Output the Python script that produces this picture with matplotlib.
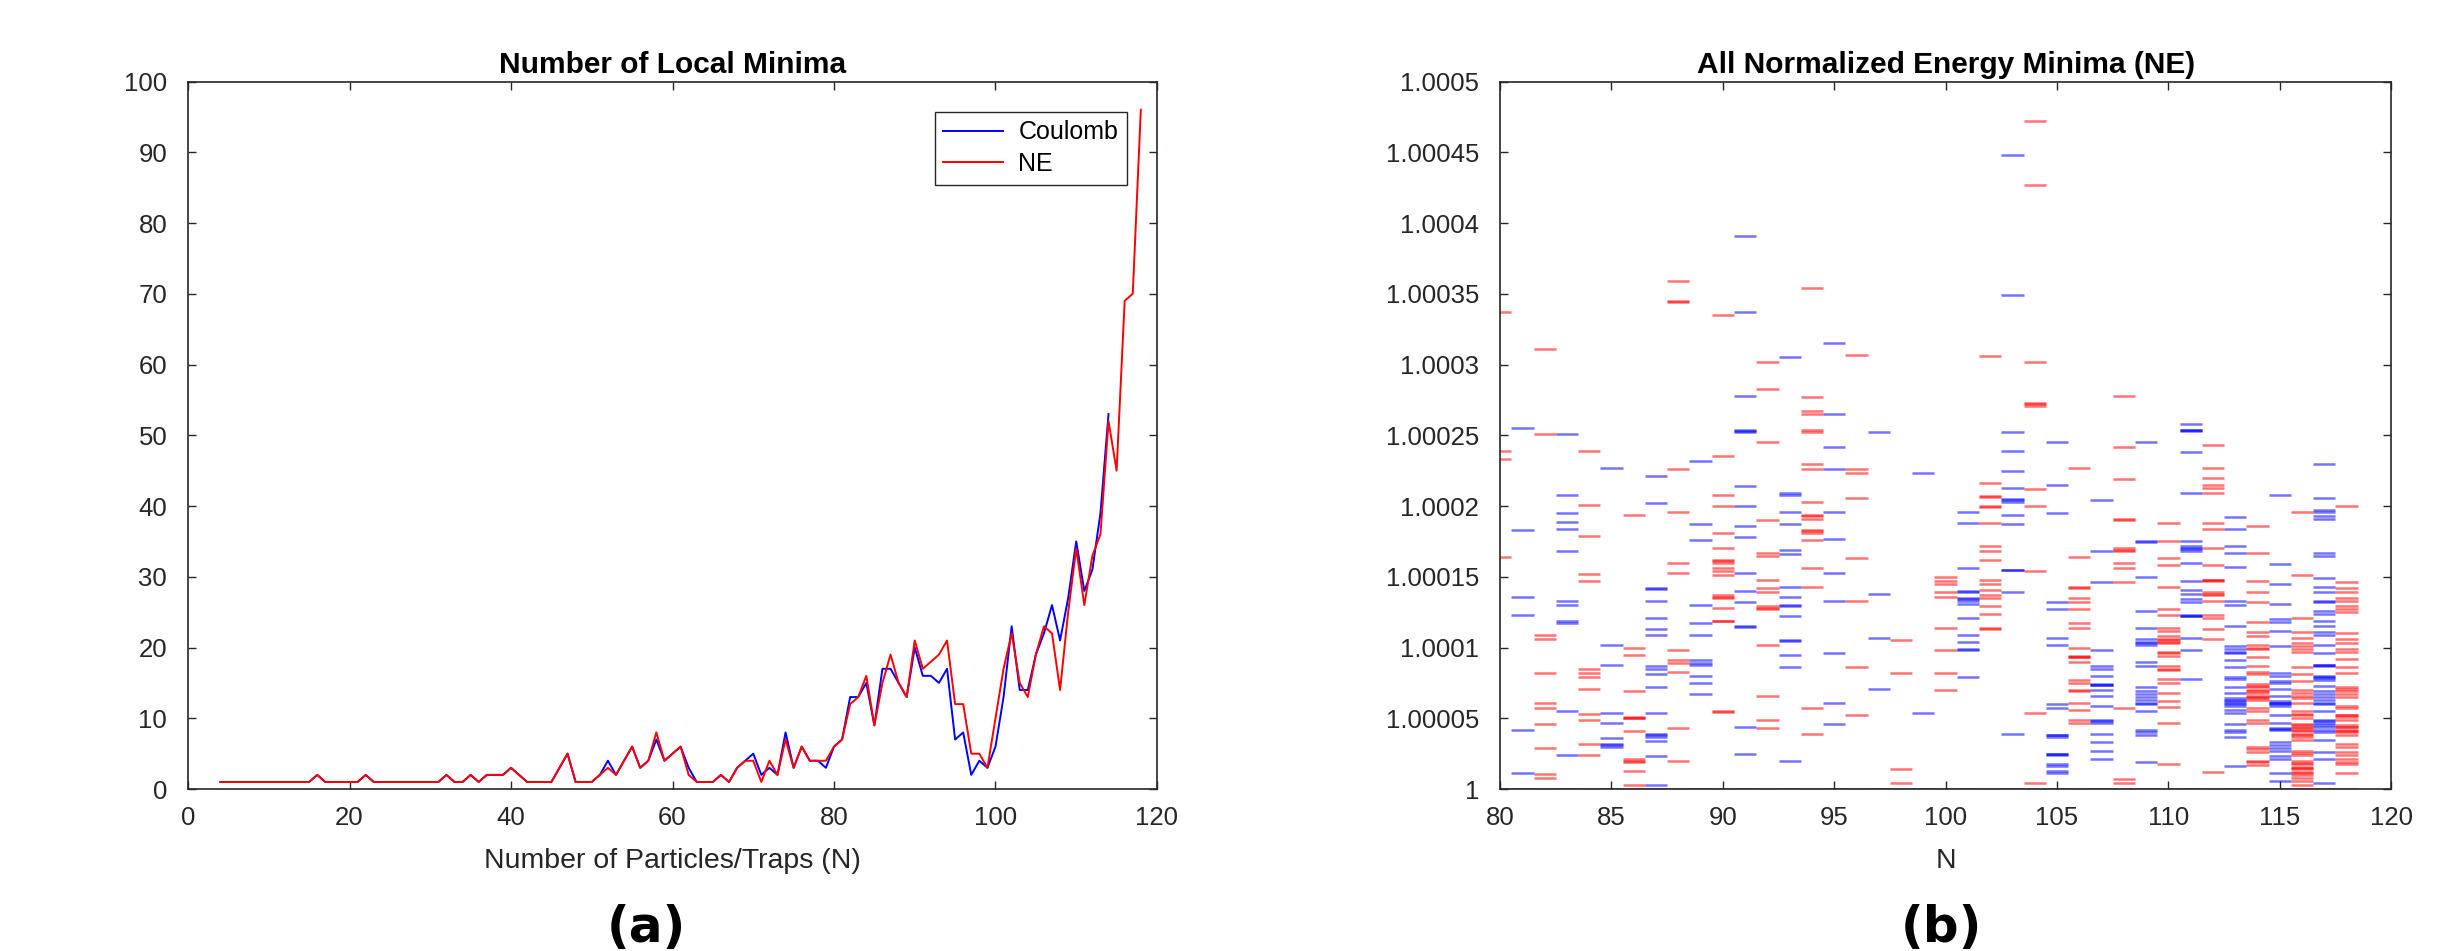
import matplotlib.pyplot as plt
import numpy as np

plt.rcParams['font.family'] = ['Liberation Sans', 'DejaVu Sans']

#Get data
#number of local minima found for each N (Coulomb ends at N=114)
n_coulomb = np.arange(4, 115)
coulomb = [1, 1, 1, 1, 1, 1, 1, 1, 1, 1, 1, 1,
           2, 1, 1, 1, 1, 1, 2, 1, 1, 1,
           1, 1, 1, 1, 1, 1, 2, 1, 1, 2,
           1, 2, 2, 2, 3, 2, 1, 1, 1, 1,
           3, 5, 1, 1, 1, 2, 4, 2, 4, 6,
           3, 4, 7, 4, 5, 6, 3, 1, 1, 1,
           2, 1, 3, 4, 5, 2, 3, 2, 8, 3,
           6, 4, 4, 3, 6, 7, 13, 13, 15, 9,
           17, 17, 15, 13, 20, 16, 16, 15, 17, 7,
           8, 2, 4, 3, 6, 13, 23, 14, 14, 19,
           22, 26, 21, 27, 35, 28, 31, 39, 53]

n_ne = np.arange(4, 119)
ne = [1, 1, 1, 1, 1, 1, 1, 1, 1, 1, 1, 1,
      2, 1, 1, 1, 1, 1, 2, 1, 1, 1,
      1, 1, 1, 1, 1, 1, 2, 1, 1, 2,
      1, 2, 2, 2, 3, 2, 1, 1, 1, 1,
      3, 5, 1, 1, 1, 2, 3, 2, 4, 6,
      3, 4, 8, 4, 5, 6, 2, 1, 1, 1,
      2, 1, 3, 4, 4, 1, 4, 2, 7, 3,
      6, 4, 4, 4, 6, 7, 12, 13, 16, 9,
      15, 19, 15, 13, 21, 17, 18, 19, 21, 12,
      12, 5, 5, 3, 10, 17, 22, 15, 13, 19,
      23, 22, 14, 25, 34, 26, 33, 36, 52, 45,
      69, 70, 96]

#normalized energy minima, given as (E - 1) in units of 1e-5, one list per N
e80 = [33.7, 23.9, 23.3, 16.4, 0]
e81 = [25.5, 18.3, 13.6, 12.3, 4.2, 1.1, 0]
e82 = [31.1, 25.1, 10.9, 10.6, 8.2, 6.05, 5.7, 4.6, 2.9, 1.06, 0.78, 0]
e83 = [25.1, 20.8, 19.5, 18.9, 18.4, 16.8, 13.3, 13.0, 11.9, 11.7, 5.5, 2.4, 0]
e84 = [23.9, 20.1, 17.9, 15.2, 14.7, 8.5, 8.2, 7.9, 7.1, 5.3, 4.9, 3.2, 2.4, 0]
e85 = [22.7, 10.2, 8.8, 5.4, 4.7, 3.6, 3.2, 3.1, 3.0, 0]
e86 = [19.4, 10.0, 9.5, 6.9, 5.1, 5.05, 5.0, 4.1, 2.1, 2.0, 1.9, 1.3, 0.3, 0]
e87 = [22.1, 20.2, 14.2, 14.15, 13.3, 12.1, 11.3, 10.9, 8.7, 8.5, 8.1, 7.2, 5.4,
       3.9, 3.8, 3.7, 3.4, 2.3, 0.3, 0]
e88 = [35.9, 34.5, 34.45, 22.6, 19.6, 16.0, 15.3, 9.8, 9.1, 8.9, 8.3, 4.3, 2.0, 0]
e89 = [23.2, 18.7, 17.6, 13.0, 11.7, 10.9, 9.1, 8.9, 8.8, 8.0, 7.5, 6.7, 0]
e90 = [33.5, 23.5, 20.8, 20.0, 18.1, 17.0, 16.2, 16.1, 16.0, 15.6, 15.4, 15.1,
       13.7, 13.6, 13.5, 12.8, 11.9, 11.85, 5.5, 5.45, 0]
e91 = [39.1, 33.7, 27.8, 25.4, 25.3, 25.2, 21.4, 20.0, 18.6, 17.8, 15.3, 14.0,
       13.2, 11.5, 11.45, 4.4, 2.5, 0]
e92 = [30.2, 28.3, 24.5, 19.0, 16.7, 16.5, 14.8, 14.2, 13.9, 12.9, 12.8, 12.7,
       10.2, 6.6, 4.9, 4.3, 0]
e93 = [30.5, 20.9, 20.8, 19.6, 18.7, 16.9, 16.6, 14.3, 13.6, 13.0, 12.95, 12.2,
       10.5, 10.45, 9.5, 8.6, 2.0, 0]
e94 = [35.4, 27.7, 26.7, 26.5, 25.4, 25.2, 23.0, 22.6, 20.3, 19.4, 19.3, 19.1,
       18.3, 18.2, 18.1, 17.6, 15.6, 14.3, 5.7, 3.9, 0]
e95 = [31.5, 26.5, 24.2, 22.6, 19.6, 17.7, 15.3, 13.3, 9.6, 6.1, 4.6, 0]
e96 = [30.7, 22.6, 22.3, 20.6, 16.3, 13.3, 8.6, 5.2, 0]
e97 = [25.2, 13.8, 10.7, 7.1, 0]
e98 = [10.5, 8.2, 1.4, 0.45, 0]
e99 = [22.3, 5.4, 0]
e100 = [15.0, 14.7, 14.5, 13.9, 13.6, 11.4, 9.8, 8.2, 7.0, 0]
e101 = [19.6, 18.8, 15.6, 14.0, 13.9, 13.5, 13.4, 13.3, 13.1, 12.1, 10.9, 10.4,
        9.9, 9.85, 7.9, 0]
e102 = [30.6, 21.6, 20.7, 20.65, 20.0, 19.95, 18.8, 17.2, 16.8, 16.2, 14.8, 14.5,
        14.1, 13.7, 13.5, 12.9, 12.4, 11.4, 11.3, 0]
e103 = [44.8, 34.9, 25.2, 23.9, 22.5, 21.3, 20.5, 20.45, 20.3, 19.4, 18.7, 15.5,
        15.45, 13.9, 3.9, 0]
e104 = [47.2, 42.7, 30.2, 27.3, 27.2, 27.1, 21.2, 20.0, 15.4, 5.4, 0.4, 0]
e105 = [24.5, 21.5, 19.5, 13.2, 12.7, 10.7, 10.2, 6.0, 5.7, 3.85, 3.8, 3.7, 2.5,
        2.45, 2.4, 1.75, 1.6, 1.25, 1.1, 0]
e106 = [22.7, 16.4, 14.3, 14.2, 13.5, 13.2, 12.7, 11.7, 11.4, 10.0, 9.4, 9.35,
        9.3, 9.0, 7.7, 7.5, 7.0, 6.9, 6.1, 5.6, 4.9, 4.7, 0]
e107 = [20.4, 16.8, 14.6, 9.8, 8.7, 8.5, 8.0, 7.4, 7.38, 7.35, 7.0, 6.6, 5.9,
        4.9, 4.8, 4.7, 3.9, 3.3, 2.7, 2.1, 0]
e108 = [27.8, 24.2, 21.9, 19.1, 19.0, 17.0, 16.9, 16.8, 16.0, 15.6, 14.6, 5.7,
        0.7, 0.4, 0]
e109 = [24.5, 17.5, 17.45, 15.0, 12.6, 11.4, 10.6, 10.4, 10.35, 10.2, 9.0, 8.7,
        7.2, 6.9, 6.7, 6.5, 6.3, 6.1, 6.0, 5.5, 4.2, 4.0, 3.8, 1.9, 0]
e110 = [18.8, 17.5, 16.3, 15.8, 14.3, 12.7, 12.3, 11.4, 11.2, 10.8, 10.6, 10.55,
        10.4, 10.3, 9.7, 9.6, 9.4, 8.7, 8.5, 8.4, 7.8, 7.5, 6.8, 6.2, 5.8,
        4.7, 1.8, 0]
e111 = [25.8, 25.4, 25.35, 25.3, 23.8, 20.9, 17.5, 17.2, 17.0, 16.95, 16.8, 16.0,
        14.7, 14.1, 13.8, 13.4, 13.2, 12.3, 12.25, 12.2, 10.7, 9.8, 7.8, 0]
e112 = [24.3, 22.7, 22.0, 21.5, 21.3, 20.9, 18.8, 18.4, 17.0, 15.8, 14.8, 14.75,
        14.7, 13.9, 13.8, 13.7, 13.3, 12.3, 12.1, 11.3, 10.6, 1.2, 0]
e113 = [19.2, 18.4, 17.2, 16.7, 15.7, 13.3, 13.0, 11.5, 10.1, 9.9, 9.7, 9.6,
        9.1, 8.6, 7.9, 7.8, 7.2, 6.8, 6.4, 6.3, 6.2, 6.1, 6.0, 5.9, 5.6, 5.4,
        4.6, 4.2, 4.0, 3.7, 1.6, 0]
e114 = [18.6, 16.7, 14.7, 13.9, 13.2, 11.8, 11.1, 10.8, 10.2, 10.0, 9.9, 9.3,
        8.7, 8.3, 8.1, 7.4, 7.3, 7.2, 7.0, 6.9, 6.8, 6.6, 6.5, 6.4, 6.3, 5.7,
        5.5, 4.85, 4.7, 3.0, 2.8, 2.6, 2.0, 1.9, 1.7, 0]
e115 = [20.8, 15.9, 14.5, 13.1, 12.0, 11.8, 11.2, 10.1, 8.2, 8.0, 7.6, 7.5, 7.1,
        6.6, 6.2, 6.1, 6.05, 6.0, 5.9, 5.2, 4.7, 4.3, 4.25, 4.2, 3.3, 3.1, 2.9,
        2.7, 2.3, 2.1, 1.1, 0.6, 0]
e116 = [19.6, 15.1, 12.1, 11.1, 10.7, 10.3, 10.1, 9.9, 9.7, 8.6, 8.1, 7.6, 7.0,
        6.8, 6.6, 6.4, 6.1, 5.5, 5.3, 5.2, 5.0, 4.6, 4.5, 4.4, 4.3, 4.2, 4.1,
        3.9, 3.8, 3.7, 3.5, 2.7, 2.55, 2.4, 1.96, 1.85, 1.77, 1.58, 1.5, 1.39,
        1.2, 1.1, 1.0, 0.78, 0.54, 0.3, 0]
e117 = [23.0, 20.6, 19.7, 19.6, 19.3, 19.1, 16.7, 16.5, 14.9, 14.3, 13.9, 13.3,
        13.2, 12.6, 12.4, 11.9, 11.5, 11.1, 10.9, 10.2, 9.6, 8.8, 8.75, 8.7, 8.0,
        7.9, 7.85, 7.7, 7.3, 6.9, 6.7, 6.5, 6.3, 6.1, 6.0, 5.5, 4.9, 4.8, 4.7,
        4.5, 4.35, 4.2, 4.0, 3.5, 2.6, 2.15, 0.4, 0]
e118 = [20.0, 14.6, 14.2, 13.9, 13.5, 13.3, 12.9, 12.7, 12.5, 11.0, 10.6, 10.3,
        9.9, 9.7, 9.2, 8.65, 8.2, 7.2, 7.1, 6.9, 6.7, 6.5, 5.9, 5.7, 5.25, 5.2,
        5.1, 4.9, 4.5, 4.4, 4.35, 4.2, 4.1, 4.0, 3.8, 3.2, 3.0, 2.6, 2.4, 2.1,
        1.9, 1.75, 1.1, 0]

n_minima = np.arange(80, 119)
minima_lists = [e80, e81, e82, e83, e84, e85, e86, e87, e88, e89, e90, e91, e92,
                e93, e94, e95, e96, e97, e98, e99, e100, e101, e102, e103, e104,
                e105, e106, e107, e108, e109, e110, e111, e112, e113, e114, e115,
                e116, e117, e118]

right_yticks = [1, 1.00005, 1.0001, 1.00015, 1.0002, 1.00025, 1.0003, 1.00035,
                1.0004, 1.00045, 1.0005]
right_yticklabels = ['1', '1.00005', '1.0001', '1.00015', '1.0002', '1.00025',
                     '1.0003', '1.00035', '1.0004', '1.00045', '1.0005']

#############################################################################
#PLOTS
#############################################################################

axcol = '#262626'
fig = plt.figure(figsize=(24.58, 9.51), dpi=100)
ax1 = fig.add_axes([0.0765, 0.1703, 0.3942, 0.744])
ax2 = fig.add_axes([0.6103, 0.1703, 0.3625, 0.744])

ax1.plot(n_coulomb, coulomb, lw=1.4, color='blue', label='Coulomb')
ax1.plot(n_ne, ne, lw=1.4, color='red', label='NE')
ax1.set_xlim(0, 120)
ax1.set_ylim(0, 100)
ax1.set_xticks(np.arange(0, 121, 20))
ax1.set_yticks(np.arange(0, 101, 10))
ax1.set_xlabel('Number of Particles/Traps (N)', fontsize=20.5, color=axcol, labelpad=13)
ax1.set_title('Number of Local Minima', fontsize=21.5, fontweight='bold', pad=6)
leg = ax1.legend(loc='upper right', fontsize=18, fancybox=False, framealpha=1,
                 edgecolor=axcol, handlelength=2.4, borderaxespad=1.2,
                 handletextpad=0.6, borderpad=0.35, labelspacing=0.3)
leg.get_frame().set_linewidth(1.0)

for n, vals in zip(n_minima, minima_lists):
    col = 'red' if n % 2 == 0 else 'blue'
    y = 1 + np.array(vals) * 1e-5
    ax2.hlines(y, n - 0.5, n + 0.5, colors=col, lw=1.8, alpha=0.55)
ax2.set_xlim(80, 120)
ax2.set_ylim(1, 1.0005)
ax2.set_xticks(np.arange(80, 121, 5))
ax2.set_yticks(right_yticks)
ax2.set_yticklabels(right_yticklabels)
ax2.set_xlabel('N', fontsize=20.5, color=axcol, labelpad=13)
ax2.set_title('All Normalized Energy Minima (NE)', fontsize=21.5, fontweight='bold', pad=6)

for ax in (ax1, ax2):
    ax.tick_params(direction='in', length=6, width=1.0, colors=axcol,
                   labelsize=18.5, top=True, right=True)
    ax.tick_params(axis='x', pad=12)
    ax.tick_params(axis='y', pad=15)
    for s in ax.spines.values():
        s.set_color(axcol)
        s.set_linewidth(1.2)

fig.text(0.263, 0.024, '(a)', fontsize=36, fontweight='bold', family='DejaVu Sans',
         ha='center', va='center')
fig.text(0.790, 0.024, '(b)', fontsize=36, fontweight='bold', family='DejaVu Sans',
         ha='center', va='center')

plt.savefig('out.png', dpi=100)
plt.close()
